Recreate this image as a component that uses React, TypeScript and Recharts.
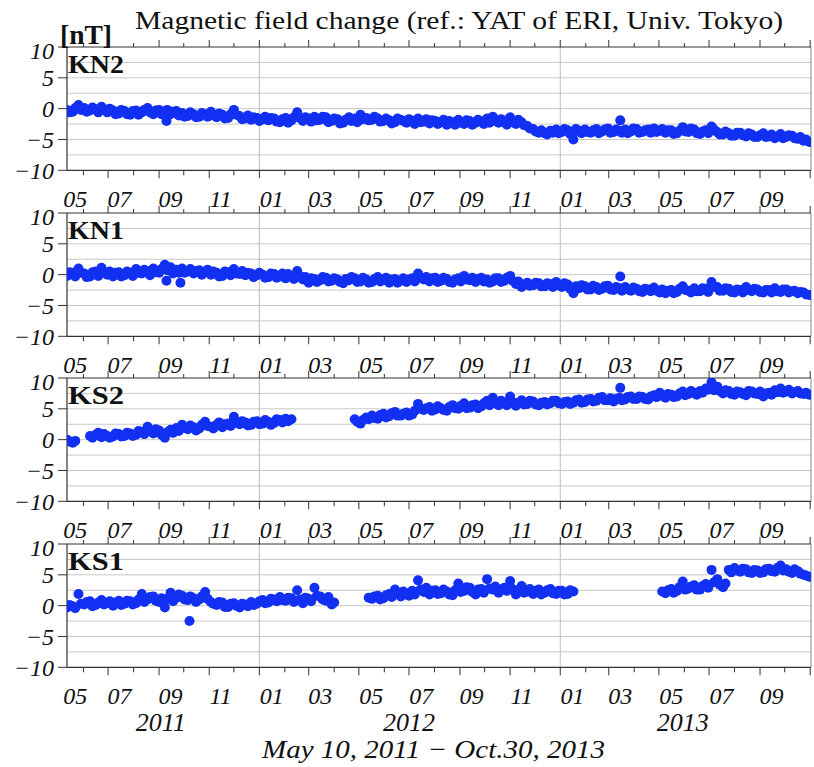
import React from 'react';
import { ScatterChart, Scatter, XAxis, YAxis, ReferenceLine } from 'recharts';

// days counted from May 10, 2011 (day 0)
const sampleDays = [
  2, 9, 16, 23, 30, 37, 44, 51, 58, 65,
  72, 79, 86, 93, 100, 107, 114, 121, 128, 135,
  142, 149, 156, 163, 170, 177, 184, 191, 198, 205,
  212, 219, 226, 233, 240, 247, 254, 261, 268, 275,
  282, 289, 296, 303, 310, 317, 324, 331, 338, 345,
  352, 359, 366, 373, 380, 387, 394, 401, 408, 415,
  422, 429, 436, 443, 450, 457, 464, 471, 478, 485,
  492, 499, 506, 513, 520, 527, 534, 541, 548, 555,
  562, 569, 576, 583, 590, 597, 604, 611, 618, 625,
  632, 639, 646, 653, 660, 667, 674, 681, 688, 695,
  702, 709, 716, 723, 730, 737, 744, 751, 758, 765,
  772, 779, 786, 793, 800, 807, 814, 821, 828, 835,
  842, 849, 856, 863, 870, 877, 884, 891, 898, 905,
];
const sampleDaysB = [
  5, 12, 19, 26, 33, 40, 47, 54, 61, 68,
  75, 82, 89, 96, 103, 110, 117, 124, 131, 138,
  145, 152, 159, 166, 173, 180, 187, 194, 201, 208,
  215, 222, 229, 236, 243, 250, 257, 264, 271, 278,
  285, 292, 299, 306, 313, 320, 327, 334, 341, 348,
  355, 362, 369, 376, 383, 390, 397, 404, 411, 418,
  425, 432, 439, 446, 453, 460, 467, 474, 481, 488,
  495, 502, 509, 516, 523, 530, 537, 544, 551, 558,
  565, 572, 579, 586, 593, 600, 607, 614, 621, 628,
  635, 642, 649, 656, 663, 670, 677, 684, 691, 698,
  705, 712, 719, 726, 733, 740, 747, 754, 761, 768,
  775, 782, 789, 796, 803, 810, 817, 824, 831, 838,
  845, 852, 859, 866, 873, 880, 887, 894, 901,
];

const kn2Values = [
  -0.2, -0.5, 0.6, 0.1, -0.3, -0.1, 0.3, -0.6, -0.3, -0.8,
  -0.4, -1.0, -0.3, -0.6, 0.1, -0.9, -0.2, -0.5, -0.9, -0.4,
  -0.7, -1.2, -0.9, -1.3, -0.9, -0.5, -1.4, -1.0, -1.5, -0.2,
  -1.2, -1.6, -1.8, -1.5, -1.7, -1.9, -1.6, -2.2, -1.5, -1.9,
  -0.6, -2.0, -1.6, -1.3, -1.8, -1.4, -2.0, -1.7, -2.3, -1.4,
  -1.6, -1.0, -1.5, -1.8, -1.6, -2.0, -1.9, -2.2, -1.8, -2.3,
  -2.0, -1.6, -2.1, -2.4, -2.0, -2.2, -2.6, -2.2, -1.8, -2.5,
  -2.0, -2.3, -2.1, -1.6, -1.3, -2.3, -2.1, -1.4, -2.5, -2.2,
  -2.8, -3.3, -3.9, -4.0, -3.6, -3.4, -3.8, -3.5, -3.8, -3.6,
  -3.4, -3.9, -3.3, -3.7, -3.2, -3.8, -3.6, -3.4, -3.7, -3.3,
  -3.8, -3.4, -3.2, -3.6, -3.9, -3.5, -4.0, -3.0, -3.8, -3.4,
  -4.1, -3.5, -2.9, -3.8, -4.2, -4.0, -4.4, -3.9, -4.5, -4.2,
  -4.6, -4.0, -4.5, -4.8, -4.1, -4.6, -4.4, -4.9, -5.2, -5.4,
];
const kn2ValuesB = [
  -0.6, 0.1, -0.2, -0.5, 0.2, -0.6, -0.2, 0.0, -0.9, -0.2,
  -0.9, -0.4, -1.0, -0.2, -0.6, -0.3, -0.9, -0.2, -0.5, -1.1,
  -1.3, -0.6, -1.4, -0.7, -1.3, -1.1, -0.8, -1.6, -0.9, -1.0,
  -1.7, -1.1, -1.4, -2.0, -1.3, -1.5, -2.1, -1.7, -2.3, -1.4,
  -1.5, -1.4, -2.1, -1.9, -1.3, -2.2, -1.6, -2.4, -1.8, -2.0,
  -2.2, -1.7, -1.9, -1.3, -2.1, -1.6, -2.4, -1.6, -2.0, -1.7,
  -2.5, -2.2, -1.7, -1.9, -2.5, -1.8, -2.0, -2.6, -2.3, -1.9,
  -2.6, -1.8, -2.5, -2.3, -2.0, -1.7, -2.6, -2.2, -1.8, -2.7,
  -3.2, -3.7, -3.5, -4.2, -3.9, -4.0, -3.3, -4.1, -3.3, -4.0,
  -3.8, -3.5, -4.0, -3.4, -3.9, -3.4, -3.9, -4.0, -3.2, -3.9,
  -3.5, -3.9, -3.8, -3.3, -3.5, -4.1, -3.6, -3.7, -3.2, -4.0,
  -3.7, -4.0, -3.4, -4.2, -3.7, -4.4, -3.9, -4.3, -4.0, -4.6,
  -4.3, -4.6, -4.2, -4.5, -4.8, -4.3, -4.8, -4.6, -5.0,
];

const kn1Values = [
  -0.2, 0.3, 1.0, 0.2, -0.3, 0.5, 1.1, 0.0, -0.3, 0.4,
  -0.1, 0.3, 0.9, 0.2, 0.6, 1.0, 0.3, 1.6, 1.2, 0.8,
  1.0, 0.5, 0.2, 0.7, 0.4, 0.0, 0.3, -0.2, 0.4, 0.9,
  0.1, -0.1, 0.2, -0.1, 0.0, -0.4, 0.1, -0.3, -0.6, -0.2,
  0.6, -0.8, -1.3, -0.7, -0.9, -0.5, -1.0, -0.8, -1.4, -0.9,
  -0.6, -1.1, -0.8, -1.2, -0.4, -0.9, -1.3, -0.7, -1.0, -1.2,
  -0.6, 0.2, -0.8, -1.1, -0.5, -1.0, -0.7, -1.3, -0.6, -0.2,
  -0.9, -1.2, -0.5, -0.8, -1.1, -0.6, -1.0, -0.2, -1.5, -2.0,
  -1.3, -1.7, -1.4, -1.9, -1.5, -1.2, -2.0, -1.6, -3.0, -2.2,
  -1.9, -2.4, -2.0, -2.3, -1.8, -2.5, -2.2, -2.0, -2.6, -2.3,
  -2.8, -2.4, -2.1, -2.9, -3.0, -2.5, -2.8, -1.9, -2.6, -2.2,
  -2.7, -2.3, -1.2, -2.0, -2.6, -2.3, -2.9, -2.5, -2.0, -2.7,
  -2.4, -2.9, -2.5, -2.2, -2.8, -2.4, -2.7, -3.0, -2.9, -3.3,
];
const kn1ValuesB = [
  0.4, -0.3, 0.3, -0.4, 0.4, -0.2, 0.4, 0.5, 0.3, -0.3,
  0.5, -0.2, 0.3, 0.8, -0.1, 0.4, 0.9, 0.7, 0.2, 0.3,
  0.3, 0.9, 0.6, 0.0, 0.8, 0.5, -0.3, 0.5, -0.1, 0.2,
  0.6, 0.3, -0.4, 0.3, -0.5, 0.2, -0.5, 0.2, 0.1, -0.7,
  -0.2, -0.4, -0.6, -1.2, -0.4, -1.1, -0.6, -1.2, -0.7, -0.4,
  -1.2, -0.5, -1.3, -0.7, -1.1, -0.5, -0.8, -1.3, -0.6, -0.8,
  -1.1, -0.5, -0.4, -0.6, -1.2, -0.5, -1.2, -0.8, -1.1, -0.8,
  -0.5, -0.7, -1.1, -1.3, -0.6, -1.2, -0.5, -1.0, -1.1, -1.6,
  -1.8, -1.3, -1.9, -1.4, -2.0, -1.7, -1.4, -2.3, -1.9, -1.7,
  -2.4, -1.8, -2.5, -1.9, -2.4, -2.0, -2.6, -2.4, -2.1, -2.7,
  -2.3, -2.7, -2.6, -2.4, -2.6, -3.0, -2.3, -2.5, -2.9, -2.7,
  -2.2, -2.8, -2.0, -2.6, -2.2, -2.8, -2.4, -2.9, -2.5, -2.3,
  -2.8, -2.5, -2.9, -2.7, -2.4, -2.9, -2.6, -2.8, -3.2,
];

const ks2Values = [
  0.0, -0.5, null, null, 0.6, 0.8, 0.4, 0.6, 0.5, 0.9,
  0.6, 1.0, 0.8, 1.3, 2.1, 1.0, 1.5, 0.3, 1.6, 1.9,
  2.4, 1.7, 2.0, 1.8, 2.9, 2.1, 2.4, 2.0, 2.6, 3.7,
  2.5, 2.8, 2.4, 3.0, 2.6, 2.9, 2.7, 3.2, 3.4, 3.3,
  null, null, null, null, null, null, null, null, null, null,
  3.3, 2.6, 3.6, 3.9, 3.4, 4.2, 3.8, 4.5, 3.9, 4.4,
  4.1, 5.8, 4.8, 5.3, 4.9, 5.1, 4.7, 5.6, 5.0, 5.9,
  5.2, 5.7, 5.4, 6.3, 6.8, 5.6, 6.0, 7.0, 5.5, 6.4,
  5.8, 6.2, 5.6, 6.1, 5.9, 6.3, 5.8, 6.2, 6.0, 6.5,
  6.1, 6.6, 6.3, 6.9, 6.4, 6.2, 6.8, 6.5, 7.0, 6.6,
  6.9, 6.5, 7.2, 7.6, 6.8, 7.3, 7.0, 7.8, 7.4, 7.6,
  7.9, 8.3, 9.3, 8.6, 7.5, 7.9, 7.3, 7.7, 7.2, 7.8,
  7.4, 7.0, 7.6, 8.0, 8.3, 7.8, 7.5, 7.9, 7.4, 7.3,
];
const ks2ValuesB = [
  -0.3, -0.2, null, null, 0.3, 1.1, 0.9, 0.3, 1.0, 0.5,
  1.1, 0.6, 1.4, 0.9, 1.5, 1.7, 0.8, 1.2, 1.1, 1.4,
  1.9, 2.3, 1.5, 2.4, 2.2, 1.8, 2.8, 2.5, 2.2, 2.7,
  3.0, 2.3, 2.9, 2.5, 3.2, 2.4, 3.3, 2.8, 3.0, null,
  null, null, null, null, null, null, null, null, null, null,
  2.9, 3.2, 3.3, 3.5, 4.0, 3.6, 4.3, 3.9, 4.2, 3.9,
  4.7, 5.0, 5.1, 4.7, 5.4, 4.8, 5.3, 5.1, 5.5, 5.1,
  5.6, 5.1, 5.9, 5.6, 5.9, 6.3, 5.6, 6.1, 6.0, 5.7,
  6.3, 5.7, 6.0, 5.7, 6.3, 5.9, 6.1, 5.8, 6.4, 6.0,
  6.5, 6.2, 6.8, 6.4, 6.7, 6.6, 6.4, 6.9, 6.6, 7.0,
  6.6, 7.0, 6.9, 7.1, 7.4, 6.9, 7.5, 7.2, 7.9, 7.3,
  7.6, 8.1, 8.0, 7.9, 8.0, 7.4, 7.8, 7.4, 7.9, 7.5,
  7.8, 7.5, 7.3, 7.7, 7.6, 8.1, 7.7, 7.5, 7.6,
];

const ks1Values = [
  -0.3, -0.1, 1.9, 0.2, 0.7, 0.1, 0.9, 0.4, 0.0, 0.8,
  0.3, 0.7, 0.4, 1.9, 1.0, 1.5, 0.6, -0.3, 2.1, 1.3,
  1.6, 0.9, 1.2, 1.0, 2.2, 0.6, 0.1, 0.5, -0.2, 0.4,
  -0.3, 0.2, 0.6, 0.3, 0.9, 0.5, 1.0, 1.4, 0.8, 1.2,
  2.5, 0.4, 1.1, 2.9, 1.5, 0.8, 0.2, null, null, null,
  null, null, null, 1.1, 1.6, 1.2, 1.9, 2.6, 1.5, 2.0,
  2.4, 4.1, 2.2, 1.8, 2.5, 2.0, 2.3, 1.7, 3.6, 2.4,
  2.9, 1.8, 2.7, 4.3, 2.6, 2.1, 2.9, 4.0, 1.8, 3.2,
  2.3, 1.9, 2.6, 2.1, 2.7, 1.9, 2.4, 1.9, 2.3, null,
  null, null, null, null, null, null, null, null, null, null,
  null, null, null, null, 2.0, 2.7, 2.4, 3.9, 2.8, 3.3,
  2.6, 3.5, 5.8, 4.3, 3.0, 5.8, 6.1, 5.5, 5.9, 5.3,
  5.7, 5.4, 6.0, 5.5, 6.5, 5.9, 5.3, 5.6, 5.0, 4.7,
];
const ks1ValuesB = [
  0.1, -0.4, 0.3, 0.6, -0.1, 0.5, 0.2, 0.7, 0.5, 0.1,
  0.8, 0.2, 1.0, 0.6, 1.4, 0.8, 1.2, 1.1, 0.7, 1.8,
  1.0, 1.5, 0.6, 1.5, 1.1, 0.3, 0.6, -0.2, 0.3, 0.0,
  0.3, -0.1, 0.1, 0.7, 0.4, 1.1, 0.7, 0.9, 1.3, 0.6,
  1.0, 1.3, 0.7, 1.6, 1.0, 1.4, 0.5, null, null, null,
  null, null, 1.3, 1.5, 1.0, 1.7, 1.4, 2.0, 2.3, 1.6,
  1.8, 2.6, 2.9, 2.4, 1.9, 2.6, 1.8, 2.5, 2.2, 3.0,
  2.2, 2.6, 2.1, 2.8, 3.1, 2.6, 2.4, 2.7, 2.5, 2.1,
  2.7, 2.4, 1.8, 2.5, 2.0, 2.4, 1.8, 2.5, null, null,
  null, null, null, null, null, null, null, null, null, null,
  null, null, null, 2.3, 2.5, 2.1, 3.0, 2.6, 3.1, 2.6,
  3.2, 2.9, 3.8, 3.4, 3.6, 5.4, 5.7, 6.0, 5.4, 5.8,
  5.3, 5.9, 5.6, 6.1, 5.7, 5.5, 5.9, 5.2, 4.9,
];

// isolated points (day, value)
const kn2OutlierDays = [123, 618, 675];
const kn2OutlierValues = [-2.0, -5.0, -1.9];
const kn1OutlierDays = [123, 140, 675];
const kn1OutlierValues = [-1.0, -1.3, -0.3];
const ks2OutlierDays = [675];
const ks2OutlierValues = [8.4];
const ks1OutlierDays = [151];
const ks1OutlierValues = [-2.5];

const panelNames = ['KN2', 'KN1', 'KS2', 'KS1'];

const monthStartDays = [22, 52, 83, 114, 144, 175, 205, 236, 267, 296, 327, 357, 388, 418, 449, 480, 510, 541, 571, 602, 633, 661, 692, 722, 753, 783, 814, 845, 875, 906];
const majorMonthDays = [52, 114, 175, 236, 296, 357, 418, 480, 541, 602, 661, 722, 783, 845, 906];
const monthLabelDays = [12, 66, 128, 189, 251, 310, 372, 433, 494, 555, 617, 675, 737, 798, 859];
const monthLabels = ['05', '07', '09', '11', '01', '03', '05', '07', '09', '11', '01', '03', '05', '07', '09'];
const yearLabels = ['2011', '2012', '2013'];
const yearLabelDays = [116, 418, 751];
const yTicks = [-10, -5, 0, 5, 10];
const rightTicks = [-5, 0, 5];
const gridValues = [-7.5, -5, -2.5, 0, 2.5, 5, 7.5];
const yearLineDays = [236, 602];
const X_DOMAIN = [2, 907];

const SERIF = "'Liberation Serif', 'Times New Roman', serif";
const DOT = '#1230f2';
const AXIS = '#333';

const PANEL_TOPS = [46.7, 212.7, 377.7, 543.7];
const PLOT_H = 123.3;
const CHART_W = 814;
const CHART_H = 180;
const TOP_OFF = 12;
const PLOT_LEFT = 67;
const PLOT_RIGHT = 811;

const majorSet = new Set(majorMonthDays);
const startSet = new Set(monthStartDays);

const buildData = (
  vals: (number | null)[],
  valsB: (number | null)[],
  oDays: number[],
  oVals: number[],
) => {
  const pts: { x: number; y: number }[] = [];
  sampleDays.forEach((d, i) => {
    const v = vals[i];
    if (v !== null && v !== undefined) pts.push({ x: d, y: v });
  });
  sampleDaysB.forEach((d, i) => {
    const v = valsB[i];
    if (v !== null && v !== undefined) pts.push({ x: d, y: v });
  });
  oDays.forEach((d, i) => pts.push({ x: d, y: oVals[i] }));
  return pts;
};

const panels = [
  buildData(kn2Values, kn2ValuesB, kn2OutlierDays, kn2OutlierValues),
  buildData(kn1Values, kn1ValuesB, kn1OutlierDays, kn1OutlierValues),
  buildData(ks2Values, ks2ValuesB, ks2OutlierDays, ks2OutlierValues),
  buildData(ks1Values, ks1ValuesB, ks1OutlierDays, ks1OutlierValues),
];

const fmtNum = (v: number) => (v < 0 ? '\u2212' + Math.abs(v) : String(v));

const BottomTick = (props: any) => {
  const { x, y, payload } = props;
  const v = payload.value;
  if (startSet.has(v)) {
    const len = majorSet.has(v) ? 8 : 5;
    return <line x1={x} x2={x} y1={y} y2={y + len} stroke={AXIS} strokeWidth={1} />;
  }
  const i = monthLabelDays.indexOf(v);
  if (i < 0) return <g />;
  return (
    <text x={x} y={y + 37} textAnchor="middle" fontStyle="italic" fontSize={24} fontFamily={SERIF} fill="#111">
      {monthLabels[i]}
    </text>
  );
};

const TopTick = (props: any) => {
  const { x, y, payload } = props;
  const v = payload.value;
  const len = majorSet.has(v) ? 7 : 4;
  return <line x1={x} x2={x} y1={y} y2={y - len} stroke={AXIS} strokeWidth={1} />;
};

const LeftTick = (props: any) => {
  const { x, y, payload } = props;
  const v = payload.value;
  const shift = v === 10 ? 4 : 0;
  return (
    <g>
      <line x1={x - 9} x2={x} y1={y} y2={y} stroke={AXIS} strokeWidth={1} />
      <text x={x - 13} y={y + shift} dy="0.35em" textAnchor="end" fontStyle="italic" fontSize={24} fontFamily={SERIF} fill="#111">
        {fmtNum(v)}
      </text>
    </g>
  );
};

const RightTick = (props: any) => {
  const { x, y } = props;
  return <line x1={x - 4} x2={x} y1={y} y2={y} stroke={AXIS} strokeWidth={1} />;
};

const Dot = (props: any) => {
  const { cx, cy } = props;
  if (cx == null || cy == null) return <g />;
  return <circle cx={cx} cy={cy} r={5} fill={DOT} />;
};

const bottomTicks = [...monthStartDays, ...monthLabelDays].sort((a, b) => a - b);

const Panel = ({ index }: { index: number }) => {
  const top = PANEL_TOPS[index] - TOP_OFF;
  return (
    <div style={{ position: 'absolute', left: 0, top, width: CHART_W, height: CHART_H }}>
      <ScatterChart
        width={CHART_W}
        height={CHART_H}
        margin={{ top: TOP_OFF - 8, right: 0, bottom: CHART_H - TOP_OFF - PLOT_H - 40, left: 0 }}
        style={{ overflow: 'visible' }}
      >
        <XAxis xAxisId="b" type="number" dataKey="x" orientation="bottom" domain={X_DOMAIN} allowDataOverflow
          ticks={bottomTicks} interval={0} tickSize={0} tickMargin={0} tickLine={false} tick={BottomTick}
          height={40} axisLine={{ stroke: AXIS, strokeWidth: 1.2 }} />
        <XAxis xAxisId="t" type="number" dataKey="x" orientation="top" domain={X_DOMAIN} allowDataOverflow
          ticks={monthStartDays} interval={0} tickSize={0} tickMargin={0} tickLine={false} tick={TopTick}
          height={8} axisLine={{ stroke: AXIS, strokeWidth: 1.2 }} />
        <YAxis yAxisId="l" type="number" domain={[-10, 10]} allowDataOverflow ticks={yTicks} interval={0}
          tickSize={0} tickMargin={0} tickLine={false} tick={LeftTick} width={PLOT_LEFT}
          axisLine={{ stroke: AXIS, strokeWidth: 1.2 }} />
        <YAxis yAxisId="r" orientation="right" type="number" domain={[-10, 10]} ticks={rightTicks} interval={0}
          tickSize={0} tickMargin={0} tickLine={false} tick={RightTick} width={CHART_W - PLOT_RIGHT}
          axisLine={{ stroke: '#888', strokeWidth: 1 }} />
        {gridValues.map((g) => (
          <ReferenceLine key={'h' + g} xAxisId="b" yAxisId="l" y={g} stroke="#c8c8c8" strokeWidth={1} />
        ))}
        {yearLineDays.map((d) => (
          <ReferenceLine key={'v' + d} xAxisId="b" yAxisId="l" x={d} stroke="#bdbdbd" strokeWidth={1} />
        ))}
        <Scatter xAxisId="b" yAxisId="l" data={panels[index]} dataKey="y" fill={DOT} shape={Dot} isAnimationActive={false} />
      </ScatterChart>
    </div>
  );
};

const dayToX = (d: number) => PLOT_LEFT + ((d - X_DOMAIN[0]) / (X_DOMAIN[1] - X_DOMAIN[0])) * (PLOT_RIGHT - PLOT_LEFT);

export default function App() {
  return (
    <div style={{ position: 'absolute', left: 0, top: 0, width: 814, height: 767, background: '#fff' }}>
      {[0, 1, 2, 3].map((i) => (
        <Panel key={i} index={i} />
      ))}
      <svg width={814} height={767} style={{ position: 'absolute', left: 0, top: 0, pointerEvents: 'none' }}>
        <text x={135} y={28.5} fontSize={25} fontFamily={SERIF} fill="#111" textLength={648} lengthAdjust="spacingAndGlyphs">
          Magnetic field change (ref.: YAT of ERI, Univ. Tokyo)
        </text>
        <text x={60} y={44} fontSize={27} fontWeight="bold" fontFamily={SERIF} fill="#111" textLength={52} lengthAdjust="spacingAndGlyphs">
          [nT]
        </text>
        {panelNames.map((n, i) => (
          <text key={n} x={68} y={PANEL_TOPS[i] + 26.5} fontSize={25} fontWeight="bold" fontFamily={SERIF} fill="#111" textLength={56} lengthAdjust="spacingAndGlyphs">
            {n}
          </text>
        ))}
        {yearLabels.map((t, i) => (
          <text key={t} x={dayToX(yearLabelDays[i])} y={731} textAnchor="middle" fontSize={26} fontStyle="italic" fontFamily={SERIF} fill="#111">
            {t}
          </text>
        ))}
        <text x={433.5} y={758} textAnchor="middle" fontSize={26} fontStyle="italic" fontFamily={SERIF} fill="#111" textLength={343} lengthAdjust="spacingAndGlyphs">
          May 10, 2011 {'\u2212'} Oct.30, 2013
        </text>
      </svg>
    </div>
  );
}
